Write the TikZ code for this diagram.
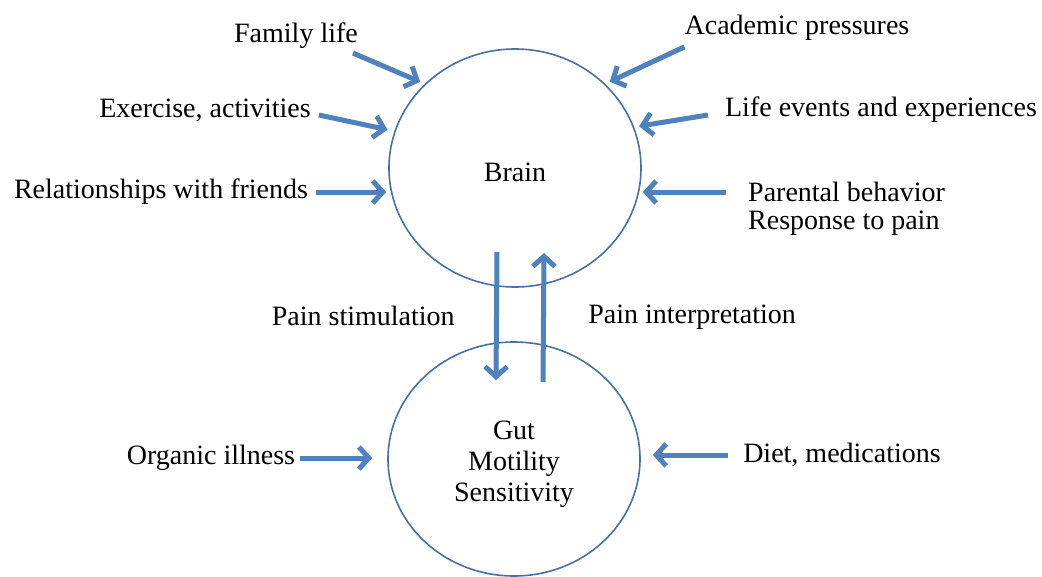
\documentclass[tikz,border=0pt]{standalone}
\usepackage{fontspec}
\setmainfont{Liberation Serif}
\usepackage{tikz}
\usetikzlibrary{positioning}
\usetikzlibrary{arrows.meta, shapes.geometric}
\usepackage{xcolor}
\definecolor{flowblue}{RGB}{79,129,189}
\definecolor{ringblue}{RGB}{72,112,168}

\begin{document}
\begin{tikzpicture}[x=1pt, y=-1pt, font=\fontsize{28}{31}\selectfont,
  ring/.style = {draw=ringblue, line width=1.6pt, ellipse, minimum width=252pt, minimum height=238pt, inner sep=0pt},
  factor/.style = {inner sep=0pt, align=center},
  flow/.style = {draw=flowblue, line width=5pt, -{Straight Barb[length=10pt,width=22pt]}}]
\useasboundingbox (0,0) rectangle (1042,576);
\node[ring] (brain) at (515,168) {};
\node[ring, minimum height=234pt] (gut) at (514,459) {};
\node[factor] (brainname) at ([yshift=-4pt]brain.center) {Brain};
\node[factor] (gutname) at ([yshift=-5pt]gut.center) {Gut\\Motility\\Sensitivity};
\node[factor] (fam) at (296,36) {Family life};
\node[factor] (exer) at (205,110) {Exercise, activities};
\node[factor] (rel) at (161,192) {Relationships with friends};
\node[factor] (acad) at (797,28) {Academic pressures};
\node[factor] (life) at (881,110) {Life events and experiences};
\node[factor, anchor=west] (par1) at (748,192) {Parental behavior};
\node[factor, anchor=west] (par2) at (748,223) {Response to pain};
\node[factor] (org) at (211,458) {Organic illness};
\node[factor] (diet) at (842,455) {Diet, medications};
% into the brain
\draw[flow, shorten >=5pt] ([xshift=-5pt,yshift=-4pt]fam.south east) -- (brain.137);
\draw[flow, shorten >=7pt] ([xshift=8pt,yshift=-5pt]exer.east) -- (brain.163);
\draw[flow, shorten >=2pt] ([xshift=8pt]rel.east) -- (rel.east -| brain.west);
\draw[flow, shorten >=5pt] ([yshift=-6pt]acad.south west) -- (brain.43);
\draw[flow, shorten >=5pt] ([xshift=-17pt,yshift=-5pt]life.west) -- (brain.19);
\draw[flow, shorten >=1pt] ([xshift=-22pt]par1.west) -- (par1.west -| brain.east);
% into the gut
\draw[flow, shorten >=15pt] ([xshift=5pt]org.east) -- (org.east -| gut.west);
\draw[flow, shorten >=12pt] ([xshift=-15pt]diet.west) -- (diet.west -| gut.east);
% brain and gut
\draw[flow] ([xshift=-18pt,yshift=-84pt]brain.center) -- ([xshift=-18pt,yshift=79pt]gut.center)
  node[midway, left=36pt] {Pain stimulation};
\draw[flow] ([xshift=29pt,yshift=77pt]gut.center) -- ([xshift=29pt,yshift=-85pt]brain.center)
  node[midway, right=39pt] {Pain interpretation};
\end{tikzpicture}
\end{document}
